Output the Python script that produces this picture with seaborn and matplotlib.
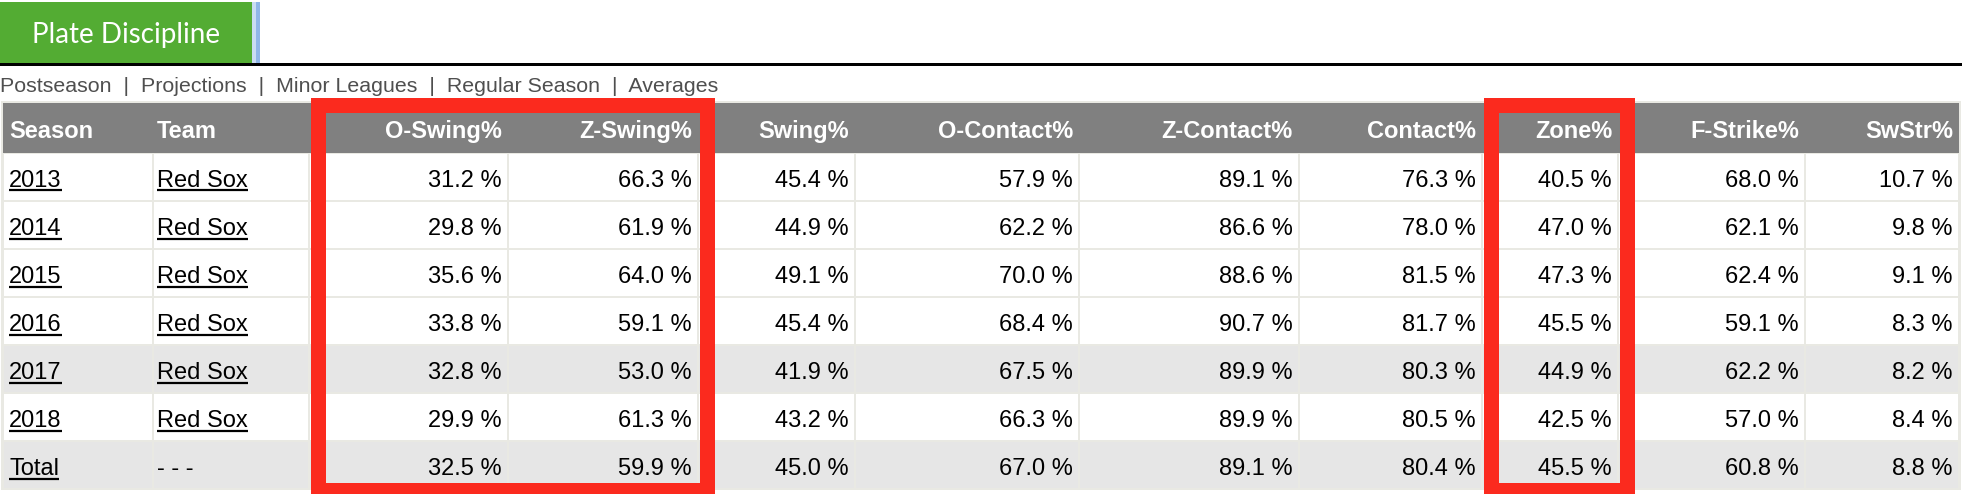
import matplotlib
matplotlib.use("Agg")
import matplotlib.pyplot as plt
from matplotlib.patches import Rectangle
import seaborn as sns
import pandas as pd

# table data
seasons = ["2013", "2014", "2015", "2016", "2017", "2018", "Total"]
teams = ["Red Sox", "Red Sox", "Red Sox", "Red Sox", "Red Sox", "Red Sox", "- - -"]
o_swing = [31.2, 29.8, 35.6, 33.8, 32.8, 29.9, 32.5]
z_swing = [66.3, 61.9, 64.0, 59.1, 53.0, 61.3, 59.9]
swing = [45.4, 44.9, 49.1, 45.4, 41.9, 43.2, 45.0]
o_contact = [57.9, 62.2, 70.0, 68.4, 67.5, 66.3, 67.0]
z_contact = [89.1, 86.6, 88.6, 90.7, 89.9, 89.9, 89.1]
contact = [76.3, 78.0, 81.5, 81.7, 80.3, 80.5, 80.4]
zone = [40.5, 47.0, 47.3, 45.5, 44.9, 42.5, 45.5]
f_strike = [68.0, 62.1, 62.4, 59.1, 62.2, 57.0, 60.8]
swstr = [10.7, 9.8, 9.1, 8.3, 8.2, 8.4, 8.8]

stat_names = ["O-Swing%", "Z-Swing%", "Swing%", "O-Contact%", "Z-Contact%",
              "Contact%", "Zone%", "F-Strike%", "SwStr%"]
nav_links = ["Postseason", "Projections", "Minor Leagues", "Regular Season", "Averages"]
shaded_rows = ["2017", "Total"]
boxed_columns = [["O-Swing%", "Z-Swing%"], ["Zone%"]]

df = pd.DataFrame({"Season": seasons, "Team": teams})
for name, vals in zip(stat_names, [o_swing, z_swing, swing, o_contact, z_contact,
                                   contact, zone, f_strike, swstr]):
    df[name] = vals

# layout (pixels)
W, H = 1962, 494
col_edges = [3, 153, 309, 508, 698, 855, 1079, 1299, 1482, 1618, 1805, 1959]
header_top, header_bot = 103, 153
row_h = 48
font = "Liberation Sans"

sns.set_theme(style="white")
plt.rcParams["font.family"] = [font, "DejaVu Sans"]

fig = plt.figure(figsize=(W / 100, H / 100), dpi=100)
ax = fig.add_axes([0, 0, 1, 1])
ax.set_xlim(0, W)
ax.set_ylim(H, 0)
ax.axis("off")

# tab + rule
ax.add_patch(Rectangle((0, 2), 252, 61, color="#53ac33", lw=0))
ax.add_patch(Rectangle((252, 2), 4, 61, color="#c9dcf3", lw=0))
ax.add_patch(Rectangle((256, 2), 4, 61, color="#8fb6e8", lw=0))
ax.text(126, 43, "Plate Discipline", family=["Lato", "DejaVu Sans"], fontsize=20,
        color="white", ha="center", va="baseline")
ax.add_patch(Rectangle((0, 63.5), W, 2.5, color="black", lw=0))

# sub navigation
ax.text(0, 92, "  |  ".join(nav_links), fontsize=15.4, color="#4f4f4f",
        ha="left", va="baseline")

# table background, header and cells
n_rows = len(df)
table_bot = header_bot + n_rows * row_h
ax.add_patch(Rectangle((0.5, 101), W - 2, table_bot - 100, color="#e9e9e3", lw=0))
ax.add_patch(Rectangle((col_edges[0], header_top), col_edges[-1] - col_edges[0],
                       header_bot - header_top, color="#808080", lw=0))

columns = list(df.columns)
for j, name in enumerate(columns):
    x0, x1 = col_edges[j], col_edges[j + 1]
    if j < 2:
        ax.text(x0 + 6 if j == 0 else x0 + 4, header_top + 35, name, fontsize=17,
                weight="bold", color="white", ha="left", va="baseline")
    else:
        ax.text(x1 - 6, header_top + 35, name, fontsize=17, weight="bold",
                color="white", ha="right", va="baseline")

links = []
for i, row in df.iterrows():
    top = header_bot + i * row_h
    bg = "#e6e6e6" if row["Season"] in shaded_rows else "white"
    for j, name in enumerate(columns):
        x0, x1 = col_edges[j], col_edges[j + 1]
        ax.add_patch(Rectangle((x0 + 1, top + 1), x1 - x0 - 2, row_h - 2, color=bg, lw=0))
        base = top + 34
        if j < 2:
            t = ax.text(x0 + 6 if j == 0 else x0 + 4, base, row[name], fontsize=17,
                        color="black", ha="left", va="baseline")
            if row[name] != "- - -":
                links.append((t, base))
        else:
            ax.text(x1 - 6, base, f"{row[name]:.1f} %", fontsize=17,
                    color="black", ha="right", va="baseline")

# underline the links
fig.canvas.draw()
renderer = fig.canvas.get_renderer()
inv = ax.transData.inverted()
for t, base in links:
    bb = t.get_window_extent(renderer)
    xa = inv.transform((bb.x0, 0))[0]
    xb = inv.transform((bb.x1, 0))[0]
    ax.plot([xa, xb], [base + 3.5, base + 3.5], color="black", lw=1.6,
            solid_capstyle="butt")

# red highlight boxes
for group in boxed_columns:
    j0 = columns.index(group[0])
    j1 = columns.index(group[-1])
    left = col_edges[j0] + 8.5
    right = col_edges[j1 + 1] + 9
    ax.add_patch(Rectangle((left, 104.5), right - left, 385, fill=False,
                           edgecolor="#fb2a1e", lw=10.8, joinstyle="miter"))

fig.savefig("out.png", dpi=100)
